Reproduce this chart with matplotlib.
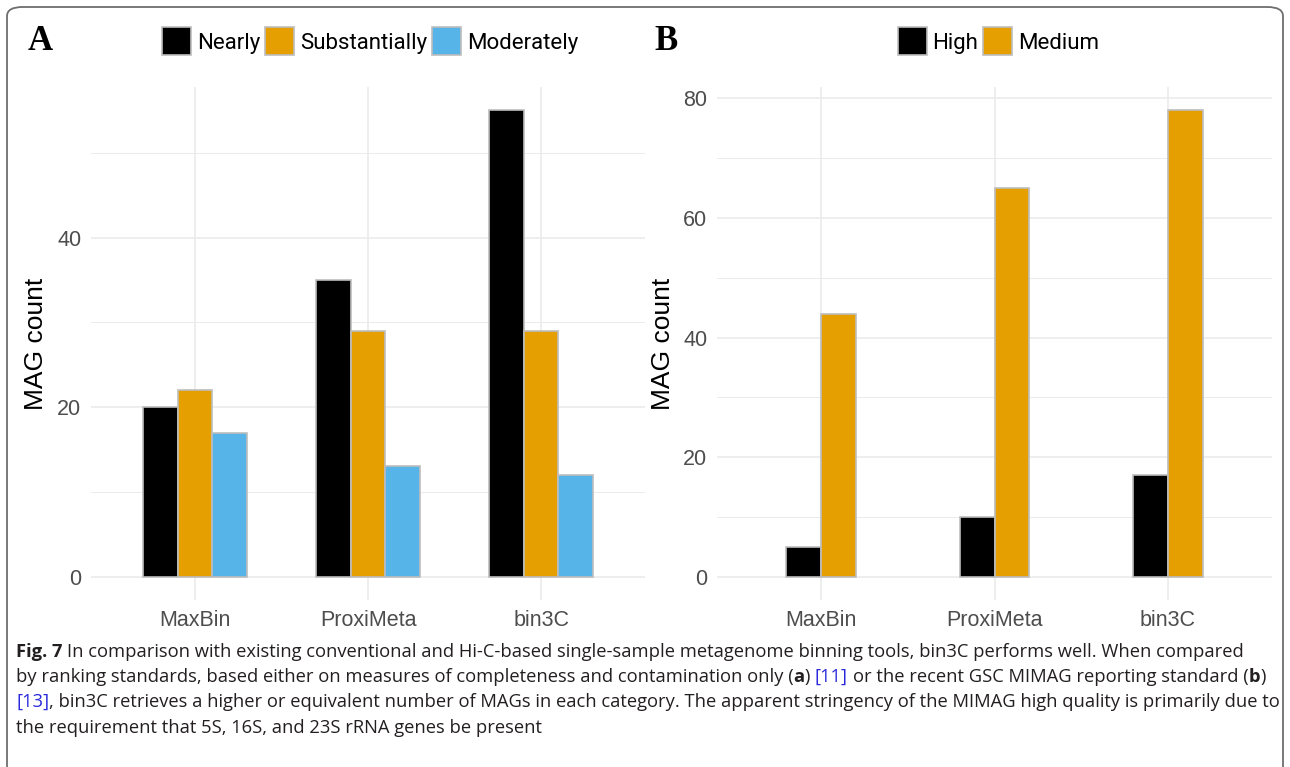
import matplotlib
matplotlib.use("Agg")
import matplotlib.pyplot as plt
import numpy as np
from matplotlib.patches import FancyBboxPatch, Rectangle
from matplotlib.ticker import MultipleLocator

# data
tools = ["MaxBin", "ProxiMeta", "bin3C"]
nearly = [20, 35, 55]
substantially = [22, 29, 29]
moderately = [17, 13, 12]
high = [5, 10, 17]
medium = [44, 65, 78]

BLACK = "#000000"
ORANGE = "#E69F00"
BLUE = "#56B4E9"
EDGE = "#BDBDBD"
GRID = "#EBEBEB"
TICK = "#4D4D4D"

plt.rcParams["font.family"] = ["Liberation Sans", "DejaVu Sans"]

W, H = 1290, 767
fig = plt.figure(figsize=(W / 100, H / 100), dpi=100)
renderer = fig.canvas.get_renderer()


def px_box(x0, x1, y_top, y_bot):
    return [x0 / W, 1 - y_bot / H, (x1 - x0) / W, (y_bot - y_top) / H]


def panel(x0, x1, series, colors, ymax, label_x):
    ax = fig.add_axes(px_box(x0, x1, 87, 600))
    x = np.arange(1, len(tools) + 1)
    n = len(series)
    bw = 0.2
    for i, (vals, c) in enumerate(zip(series, colors)):
        off = (i - (n - 1) / 2) * bw
        ax.bar(x + off, vals, width=bw, color=c, edgecolor=EDGE, linewidth=1.2, zorder=3)
    ax.set_xlim(0.4, 3.6)
    ax.set_ylim(-0.05 * ymax, 1.05 * ymax)
    ax.set_xticks(x)
    ax.set_xticklabels(tools, fontsize=15.5, color=TICK)
    ax.yaxis.set_major_locator(MultipleLocator(20))
    ax.yaxis.set_minor_locator(MultipleLocator(10))
    ax.tick_params(axis="y", labelsize=15.5, labelcolor=TICK)
    ax.tick_params(which="both", length=0, pad=7)
    ax.grid(True, which="major", color=GRID, linewidth=1.2, zorder=0)
    ax.grid(True, which="minor", axis="y", color=GRID, linewidth=0.7, zorder=0)
    for s in ax.spines.values():
        s.set_visible(False)
    ax.set_ylabel("MAG count", fontsize=19)
    ax.yaxis.set_label_coords((label_x - x0) / (x1 - x0), 0.5)
    ax.yaxis.label.set_va("center")
    return ax


axA = panel(91, 645, [nearly, substantially, moderately],
            [BLACK, ORANGE, BLUE], max(nearly), 36)
axB = panel(717, 1272, [high, medium],
            [BLACK, ORANGE], max(medium), 663)

# panel letters
fig.text(40 / W, 1 - 42 / H, "A", fontsize=25, fontweight="bold",
         family="Liberation Serif", va="center", ha="center")
fig.text(666 / W, 1 - 42 / H, "B", fontsize=25, fontweight="bold",
         family="Liberation Serif", va="center", ha="center")


def legend(center_x, y_center, items):
    sq_w, sq_h, gap, sep = 29, 28, 6, 5
    baseline = y_center + 8
    texts = []
    total = 0
    for label, c in items:
        t = fig.text(0, 1 - baseline / H, label, fontsize=16, family=["Roboto", "DejaVu Sans"],
                     va="baseline", ha="left")
        w = t.get_window_extent(renderer).width
        texts.append((t, w, c))
        total += sq_w + gap + w
    total += sep * (len(items) - 1)
    x = center_x - total / 2
    for t, w, c in texts:
        fig.patches.append(Rectangle((x / W, 1 - (y_center + sq_h / 2) / H), sq_w / W, sq_h / H,
                                     transform=fig.transFigure, facecolor=c,
                                     edgecolor=EDGE, linewidth=1.2))
        t.set_x((x + sq_w + gap) / W)
        x += sq_w + gap + w + sep


legend((91 + 645) / 2 + 2, 41, [("Nearly", BLACK), ("Substantially", ORANGE), ("Moderately", BLUE)])
legend((717 + 1272) / 2 + 4, 41, [("High", BLACK), ("Medium", ORANGE)])

# caption, drawn run by run
CAP = "#231F20"
REF = "#2A2ADB"
cap_font = ["Open Sans", "DejaVu Sans"]

lines = [
    [("Fig. 7", "bold", CAP, False),
     ("In comparison with existing conventional and Hi-C-based single-sample metagenome binning tools, bin3C performs well. When compared", "normal", CAP, True)],
    [("by ranking standards, based either on measures of completeness and contamination only (", "normal", CAP, False),
     ("a", "bold", CAP, False), (")", "normal", CAP, False), ("[11]", "normal", REF, True),
     ("or the recent GSC MIMAG reporting standard (", "normal", CAP, True),
     ("b", "bold", CAP, False), (")", "normal", CAP, False)],
    [("[13]", "normal", REF, False),
     (", bin3C retrieves a higher or equivalent number of MAGs in each category. The apparent stringency of the MIMAG high quality is primarily due to", "normal", CAP, False)],
    [("the requirement that 5S, 16S, and 23S rRNA genes be present", "normal", CAP, False)],
]
line_y = [652, 677, 702, 728]


def draw_runs(runs, yy, size):
    probe = fig.text(0, 0, "a a", fontsize=size, family=cap_font)
    probe2 = fig.text(0, 0, "aa", fontsize=size, family=cap_font)
    space_w = probe.get_window_extent(renderer).width - probe2.get_window_extent(renderer).width
    probe.remove()
    probe2.remove()
    x = 16
    drawn = []
    for txt, wt, col, sp in runs:
        if sp:
            x += space_w
        t = fig.text(x / W, 1 - yy / H, txt, fontsize=size, fontweight=wt,
                     color=col, family=cap_font, va="center", ha="left")
        drawn.append(t)
        x += t.get_window_extent(renderer).width
    return x, drawn


# size the caption so its widest line spans the same width as the reference
widest = 0
for runs, yy in zip(lines, line_y):
    end, tmp = draw_runs(runs, yy, 12)
    widest = max(widest, end - 16)
    for t in tmp:
        t.remove()
cap_size = 12 * (1274 - 16) / widest
for runs, yy in zip(lines, line_y):
    draw_runs(runs, yy, cap_size)

# rounded frame around the figure
frame = FancyBboxPatch((7 / W, -0.05), (W - 14) / W, 1.05 - 7 / H,
                       boxstyle="round,pad=0,rounding_size=0.012",
                       transform=fig.transFigure, facecolor="none",
                       edgecolor="#6E6E6E", linewidth=1.3)
fig.patches.append(frame)

fig.savefig("out.png", dpi=100)
